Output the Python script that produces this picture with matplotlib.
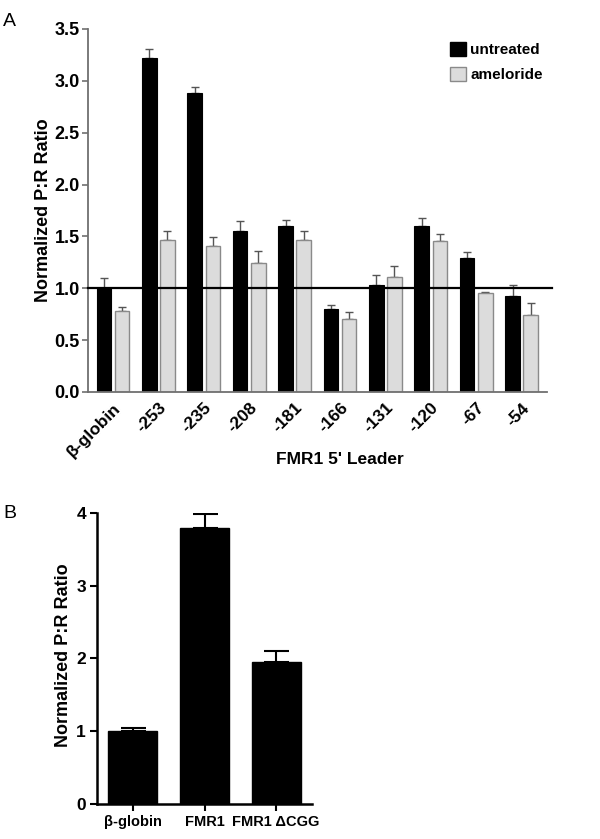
import numpy as np
import matplotlib
matplotlib.use("Agg")
import matplotlib.pyplot as plt
from matplotlib.patches import Patch

plt.rcParams['font.family'] = ['Liberation Sans', 'DejaVu Sans']

# Panel A data
leaders = ['β-globin', '-253', '-235', '-208', '-181', '-166', '-131', '-120', '-67', '-54']
untreated = [1.00, 3.22, 2.88, 1.55, 1.60, 0.80, 1.03, 1.60, 1.29, 0.93]
untreated_err = [0.10, 0.09, 0.06, 0.10, 0.06, 0.04, 0.10, 0.08, 0.06, 0.10]
ameloride = [0.78, 1.47, 1.41, 1.24, 1.47, 0.70, 1.11, 1.46, 0.95, 0.74]
ameloride_err = [0.04, 0.08, 0.08, 0.12, 0.08, 0.07, 0.10, 0.06, 0.01, 0.12]

# Panel B data
constructs = ['β-globin', 'FMR1', 'FMR1 ΔCGG']
ratio_b = [1.00, 3.80, 1.95]
ratio_b_err = [0.05, 0.18, 0.15]

fig = plt.figure(figsize=(6.0, 8.39), dpi=100)

# ---- Panel A ----
axA = fig.add_axes([0.1467, 0.5328, 0.765, 0.4327])
x = np.arange(len(leaders))
w = 0.32
off = 0.2
axA.bar(x - off, untreated, w, color='black', edgecolor='black', linewidth=0.8, zorder=2)
axA.bar(x + off, ameloride, w, color='#dcdcdc', edgecolor='#8a8a8a', linewidth=1.0, zorder=2)
axA.errorbar(x - off, untreated, yerr=[np.zeros(len(x)), untreated_err], fmt='none',
             ecolor='#555555', elinewidth=1.0, capsize=3, capthick=1.0, zorder=1)
axA.errorbar(x + off, ameloride, yerr=[np.zeros(len(x)), ameloride_err], fmt='none',
             ecolor='#555555', elinewidth=1.0, capsize=3, capthick=1.0, zorder=1)
axA.plot([-0.55, 9.67], [1.0, 1.0], color='black', linewidth=1.6, clip_on=False, zorder=3)

axA.set_xlim(-0.55, 9.56)
axA.set_ylim(0, 3.5)
axA.set_yticks(np.arange(0, 3.51, 0.5))
axA.set_yticklabels([f'{v:.1f}' for v in np.arange(0, 3.51, 0.5)],
                    fontsize=13, fontweight='bold')
axA.set_xticks(x)
axA.set_xticklabels(leaders, rotation=45, ha='right', rotation_mode='anchor',
                    fontsize=12.5, fontweight='bold')
axA.tick_params(axis='x', length=0, pad=6)
axA.tick_params(axis='y', length=4, width=1.2, color='#707070', pad=2)
for s in ['top', 'right']:
    axA.spines[s].set_visible(False)
for s in ['left', 'bottom']:
    axA.spines[s].set_color('#707070')
    axA.spines[s].set_linewidth(1.3)
axA.set_ylabel('Normalized P:R Ratio', fontsize=13, fontweight='bold')
axA.yaxis.set_label_coords(-0.078, 0.5)
axA.set_xlabel("FMR1 5' Leader", fontsize=12.5, fontweight='bold')
axA.xaxis.set_label_coords(0.549, -0.166)

handles = [Patch(facecolor='black', edgecolor='black'),
           Patch(facecolor='#dcdcdc', edgecolor='#8a8a8a')]
fig.legend(handles, ['untreated', 'ameloride'], loc='upper left',
           bbox_to_anchor=(0.737, 0.9595), frameon=False, borderpad=0,
           prop={'size': 11, 'weight': 'bold'}, handlelength=1.05, handleheight=1.05,
           handletextpad=0.3, labelspacing=0.65)

fig.text(0.005, 0.974, 'A', fontsize=14, va='center', ha='left')

# ---- Panel B ----
axB = fig.add_axes([0.1617, 0.0417, 0.3583, 0.3469])
xb = np.arange(len(constructs))
axB.bar(xb, ratio_b, 0.68, color='black', edgecolor='black', zorder=2)
axB.errorbar(xb, ratio_b, yerr=[np.zeros(len(xb)), ratio_b_err], fmt='none',
             ecolor='black', elinewidth=1.5, capsize=9, capthick=1.5, zorder=1)
axB.set_xlim(-0.5, 2.5)
axB.set_ylim(0, 4)
axB.set_yticks([0, 1, 2, 3, 4])
axB.set_yticklabels(['0', '1', '2', '3', '4'], fontsize=12.5, fontweight='bold')
axB.set_xticks(xb)
axB.set_xticklabels(constructs, fontsize=10.5, fontweight='bold')
axB.tick_params(axis='both', length=5, width=1.5, color='black', pad=3)
for s in ['top', 'right']:
    axB.spines[s].set_visible(False)
for s in ['left', 'bottom']:
    axB.spines[s].set_linewidth(1.8)
axB.set_ylabel('Normalized P:R Ratio', fontsize=13, fontweight='bold')
axB.yaxis.set_label_coords(-0.116, 0.51)

fig.text(0.005, 0.388, 'B', fontsize=14, va='center', ha='left')

fig.savefig('out.png', dpi=100)
